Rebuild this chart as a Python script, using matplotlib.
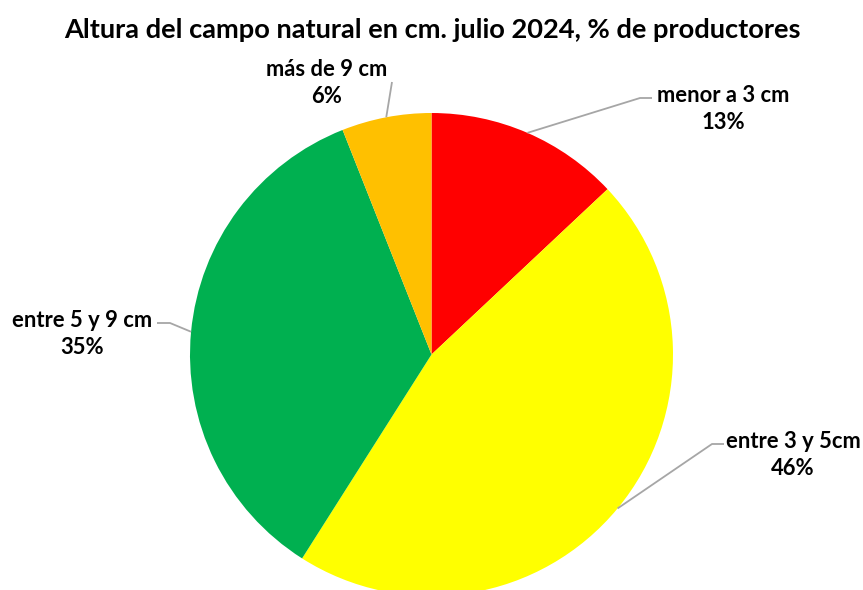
import numpy as np
import matplotlib
matplotlib.use("Agg")
import matplotlib.pyplot as plt

categories = ["menor a 3 cm", "entre 3 y 5cm", "entre 5 y 9 cm", "más de 9 cm"]
values = [13, 46, 35, 6]
colors = ["#FF0000", "#FFFF00", "#00B050", "#FFC000"]
title = "Altura del campo natural en cm. julio 2024, % de productores"

W, H = 863, 590
fig = plt.figure(figsize=(W / 100, H / 100), dpi=100)
ax = fig.add_axes([0, 0, 1, 1])

cx, cy, r = 431.5, H - 354.5, 241.5
wedges, _ = ax.pie(values, colors=colors, startangle=90, counterclock=False,
                   center=(cx, cy), radius=r, frame=True,
                   wedgeprops=dict(linewidth=0))
ax.set_xlim(0, W)
ax.set_ylim(0, H)
ax.set_aspect("equal")
ax.axis("off")

fam = ["Lato", "DejaVu Sans"]
# label elbow positions and text centres, in pixel coords (y down)
elbows = [(640, 98, 652), (712, 444, 724), (170, 323, 157), (392, 82, 392)]
textpos = [(723, 109), (793, 455), (82, 334), (327, 83)]

for w, v, cat, (ex, ey, ex2), (tx, ty) in zip(wedges, values, categories, elbows, textpos):
    ang = np.deg2rad((w.theta1 + w.theta2) / 2)
    sx = cx + r * np.cos(ang)
    sy = cy + r * np.sin(ang)
    ax.plot([sx, ex, ex2], [sy, H - ey, H - ey], color="#A6A6A6", lw=1.3,
            solid_capstyle="butt", zorder=3)
    ax.text(tx, H - ty, f"{cat}\n{v}%", ha="center", va="center",
            fontsize=15.8, fontweight="bold", family=fam, color="#000000",
            linespacing=1.33)

ax.text(432, H - 30, title, ha="center", va="center", fontsize=19.6,
        fontweight="bold", family=fam, color="#000000")

fig.savefig("out.png", dpi=100)
